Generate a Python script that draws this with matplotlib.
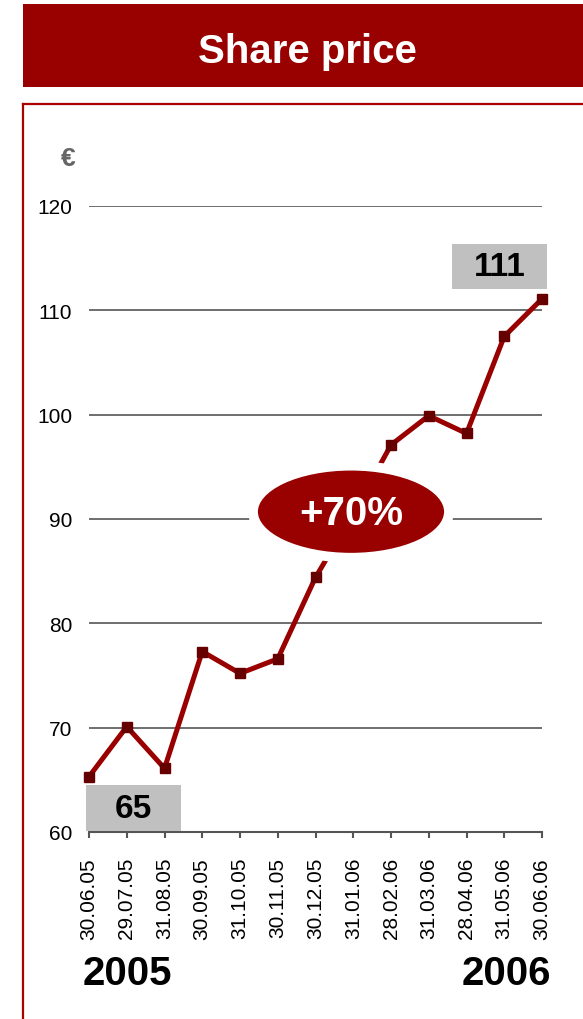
import matplotlib
matplotlib.use("Agg")
import matplotlib.pyplot as plt
from matplotlib.patches import Rectangle, Ellipse

dates = ["30.06.05", "29.07.05", "31.08.05", "30.09.05", "31.10.05", "30.11.05",
         "30.12.05", "31.01.06", "28.02.06", "31.03.06", "28.04.06", "31.05.06", "30.06.06"]
prices = [65.3, 70.1, 66.1, 77.3, 75.2, 76.6, 84.4, 90.5, 97.1, 99.9, 98.2, 107.5, 111.1]
yticks = [60, 70, 80, 90, 100, 110, 120]
title = "Share price"
unit = "€"
change_label = "+70%"
start_label = "65"
end_label = "111"
year_start = "2005"
year_end = "2006"

RED = "#990000"
DARK = "#660000"
GREY_BOX = "#c0c0c0"

plt.rcParams['font.family'] = ['Liberation Sans', 'DejaVu Sans']

W, H = 583, 1020
fig = plt.figure(figsize=(W / 100, H / 100), dpi=100)

def fx(px):
    return px / W

def fy(py):
    return 1 - py / H

# Title bar
fig.patches.append(Rectangle((fx(23), fy(88)), fx(583) - fx(23), fy(5) - fy(88),
                             transform=fig.transFigure, facecolor=RED, edgecolor="none"))
fig.text(fx(307), fy(63), title, color="white", fontsize=29, fontweight="bold",
         ha="center", va="baseline")

# Frame (left and top border)
fig.add_artist(plt.Line2D([fx(23), fx(23)], [fy(105), fy(1020)], color="#aa0000", lw=1.6,
                          transform=fig.transFigure))
fig.add_artist(plt.Line2D([fx(23), fx(583)], [fy(105), fy(105)], color="#aa0000", lw=1.6,
                          transform=fig.transFigure))

# Axes
x0, x1 = 89, 542
y0, y1 = 833, 207
ax = fig.add_axes([fx(x0), fy(y0), fx(x1) - fx(x0), fy(y1) - fy(y0)])
n = len(dates)
xs = list(range(n))
ax.set_xlim(0, n - 1)
ax.set_ylim(60, 120)
for s in ["top", "right", "left"]:
    ax.spines[s].set_visible(False)
ax.spines["bottom"].set_color("#555555")
ax.spines["bottom"].set_linewidth(1.5)

for v in yticks[1:]:
    ax.axhline(v, color="#555555", lw=1.2, zorder=1)

ax.set_yticks(yticks)
ax.set_yticklabels([str(v) for v in yticks], fontsize=15)
ax.tick_params(axis="y", length=0, pad=12)
ax.set_xticks(xs)
ax.set_xticklabels(dates, rotation=90, fontsize=15, va="top")
ax.tick_params(axis="x", length=4, width=1.5, color="#555555", direction="out", pad=14)

ax.plot(xs, prices, color=RED, lw=3.6, marker="s", markersize=7,
        markerfacecolor=DARK, markeredgecolor=DARK, zorder=3, clip_on=False)

# Ellipse
ell = Ellipse((6.94, 90.7), width=5.19, height=8.82, facecolor=RED, edgecolor="white",
              lw=7, zorder=5)
ax.add_patch(ell)
ax.text(6.94, 90.6, change_label, color="white", fontsize=29, fontweight="bold",
        ha="center", va="center", zorder=6)

# Value boxes
ax.add_patch(Rectangle((-0.08, 60.1), 2.52, 4.4, facecolor=GREY_BOX, edgecolor="none",
                       zorder=4, clip_on=False))
ax.text(1.18, 62.3, start_label, fontsize=24, fontweight="bold", ha="center", va="center",
        zorder=5)
ax.add_patch(Rectangle((9.62, 112.0), 2.52, 4.4, facecolor=GREY_BOX, edgecolor="none",
                       zorder=4, clip_on=False))
ax.text(10.88, 114.2, end_label, fontsize=24, fontweight="bold", ha="center", va="center",
        zorder=5)

# Unit
fig.text(fx(68), fy(159), unit, color="#666666", fontsize=19, fontweight="bold",
         ha="center", va="center")

# Years
fig.text(fx(83), fy(985), year_start, fontsize=29, fontweight="bold", ha="left",
         va="baseline")
fig.text(fx(551), fy(985), year_end, fontsize=29, fontweight="bold", ha="right",
         va="baseline")

fig.savefig("out.png", dpi=100)
